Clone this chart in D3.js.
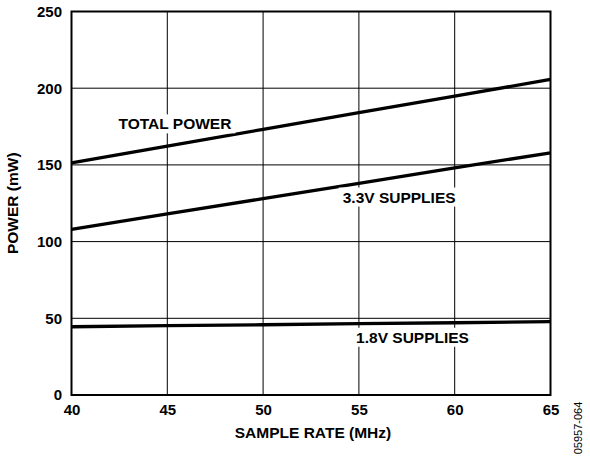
<!DOCTYPE html>
<html>
<head>
<meta charset="utf-8">
<script src="https://cdn.jsdelivr.net/npm/d3@7"></script>
<style>
    body { margin: 0; background: #fff; }
    svg text { font-family: "Liberation Sans", Arial, sans-serif; font-weight: bold; fill: #000; }
</style>
</head>
<body>
<div id="chart"></div>
<script>
// sample rate (MHz)
var sampleRate = [40, 45, 50, 55, 60, 65];
// power (mW)
var totalPower = [151.4, 162.3, 173.2, 184.0, 194.9, 205.7];
var supply33 = [108.0, 118.0, 128.0, 138.0, 148.0, 157.9];
var supply18 = [44.5, 45.2, 45.8, 46.5, 47.1, 47.8];
var xTicks = [40, 45, 50, 55, 60, 65];
var yTicks = [0, 50, 100, 150, 200, 250];
var seriesLabels = ["TOTAL POWER", "3.3V SUPPLIES", "1.8V SUPPLIES"];

var margin = {top: 11.5, right: 39.5, bottom: 61, left: 71.5};
var svgWidth = 590;
var svgHeight = 456;
var width = svgWidth - margin.left - margin.right;
var height = svgHeight - margin.top - margin.bottom;

var svg = d3.select("#chart").append("svg")
    .attr("width", svgWidth)
    .attr("height", svgHeight);
var g = svg.append("g").attr("transform", "translate(" + margin.left + "," + margin.top + ")");

var x = d3.scaleLinear().domain([40, 65]).range([0, width]);
var y = d3.scaleLinear().domain([0, 250]).range([height, 0]);

// grid
g.append("g")
    .selectAll("line.vx")
    .data(xTicks.slice(1, -1))
    .enter().append("line")
    .attr("x1", function (d) { return x(d); })
    .attr("x2", function (d) { return x(d); })
    .attr("y1", 0).attr("y2", height)
    .attr("stroke", "#000").attr("stroke-width", 1);
g.append("g")
    .selectAll("line.hy")
    .data(yTicks.slice(1, -1))
    .enter().append("line")
    .attr("y1", function (d) { return y(d); })
    .attr("y2", function (d) { return y(d); })
    .attr("x1", 0).attr("x2", width)
    .attr("stroke", "#000").attr("stroke-width", 1);

// axes (labels only)
var yAxis = g.append("g")
    .call(d3.axisLeft(y).tickValues(yTicks).tickSize(0).tickPadding(9.5));
var xAxis = g.append("g")
    .attr("transform", "translate(0," + height + ")")
    .call(d3.axisBottom(x).tickValues(xTicks).tickSize(0).tickPadding(9));
[yAxis, xAxis].forEach(function (a) {
    a.select(".domain").remove();
    a.selectAll("text").style("font-size", "15px").style("font-family", "Liberation Sans, Arial, sans-serif").style("font-weight", "bold");
});

// series lines
var line = d3.line()
    .x(function (d, i) { return x(sampleRate[i]); })
    .y(function (d) { return y(d); });
[totalPower, supply33, supply18].forEach(function (s) {
    g.append("path")
        .datum(s)
        .attr("fill", "none")
        .attr("stroke", "#000")
        .attr("stroke-width", 3.3)
        .attr("d", line);
});

// series labels with white backing
var labelPos = [
    {x: 45.4, y: 176.7},
    {x: 57.1, y: 129},
    {x: 57.8, y: 37.6}
];
seriesLabels.forEach(function (txt, i) {
    var t = g.append("text")
        .attr("x", x(labelPos[i].x))
        .attr("y", y(labelPos[i].y))
        .attr("text-anchor", "middle")
        .attr("dy", "0.35em")
        .style("font-size", "15.5px")
        .text(txt);
    var bb = t.node().getBBox();
    g.insert("rect", function () { return t.node(); })
        .attr("x", bb.x - 4).attr("y", bb.y - 1)
        .attr("width", bb.width + 8).attr("height", bb.height + 2)
        .attr("fill", "#fff");
});

// frame
g.append("rect")
    .attr("width", width).attr("height", height)
    .attr("fill", "none").attr("stroke", "#000").attr("stroke-width", 2);

// axis titles
svg.append("text")
    .attr("x", margin.left + width / 2 + 2)
    .attr("y", 437.5)
    .attr("text-anchor", "middle")
    .style("font-size", "15.5px")
    .text("SAMPLE RATE (MHz)");
svg.append("text")
    .attr("transform", "translate(18," + (margin.top + height / 2) + ") rotate(-90)")
    .attr("text-anchor", "middle")
    .style("font-size", "15.5px")
    .text("POWER (mW)");
svg.append("text")
    .attr("transform", "translate(582,428) rotate(-90)")
    .attr("text-anchor", "middle")
    .style("font-size", "11px")
    .style("font-weight", "normal")
    .text("05957-064");
</script>
</body>
</html>
